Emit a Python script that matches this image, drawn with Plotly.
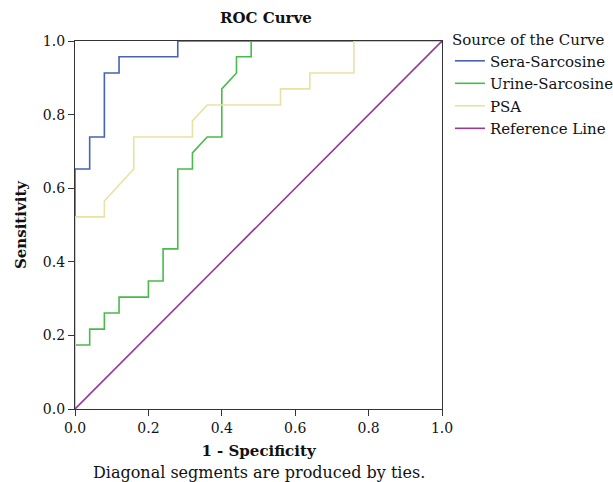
import plotly.graph_objects as go

# Data
sera_fpr = [0, 0, 0.04, 0.04, 0.08, 0.08, 0.12, 0.12, 0.28, 0.28, 1.0]
sera_tpr = [0, 0.652, 0.652, 0.739, 0.739, 0.913, 0.913, 0.957, 0.957, 1.0, 1.0]

urine_fpr = [0, 0, 0.04, 0.04, 0.08, 0.08, 0.12, 0.12, 0.20, 0.20, 0.24, 0.24,
             0.28, 0.28, 0.32, 0.32, 0.36, 0.40, 0.40, 0.44, 0.44, 0.48, 0.48, 1.0]
urine_tpr = [0, 0.174, 0.174, 0.217, 0.217, 0.261, 0.261, 0.304, 0.304, 0.348, 0.348, 0.435,
             0.435, 0.652, 0.652, 0.696, 0.739, 0.739, 0.870, 0.913, 0.957, 0.957, 1.0, 1.0]

psa_fpr = [0, 0, 0.08, 0.08, 0.16, 0.16, 0.32, 0.32, 0.36, 0.56, 0.56, 0.64, 0.64, 0.76, 0.76, 1.0]
psa_tpr = [0, 0.522, 0.522, 0.565, 0.652, 0.739, 0.739, 0.783, 0.826, 0.826, 0.870, 0.870,
           0.913, 0.913, 1.0, 1.0]

ref_fpr = [0, 1]
ref_tpr = [0, 1]

series_names = ["Sera-Sarcosine", "Urine-Sarcosine", "PSA", "Reference Line"]
colors = ["#4762b6", "#48bb48", "#e8e2a2", "#963a96"]

FONT = "DejaVu Serif"

fig = go.Figure()
for name, xs, ys, c in zip(series_names,
                           [sera_fpr, urine_fpr, psa_fpr, ref_fpr],
                           [sera_tpr, urine_tpr, psa_tpr, ref_tpr],
                           colors):
    fig.add_trace(go.Scatter(x=xs, y=ys, mode="lines", name=name,
                             line=dict(color=c, width=1.6)))

axis_common = dict(range=[0, 1], dtick=0.2, tickformat=".1f", showgrid=False, zeroline=False,
                   showline=True, linecolor="#333", linewidth=1.2, mirror=True,
                   ticks="outside", ticklen=6, tickcolor="#333", automargin=False,
                   tickfont=dict(family=FONT, size=14, color="#111"))

fig.update_layout(
    width=613, height=482,
    margin=dict(l=75, r=171, t=41, b=73),
    paper_bgcolor="white", plot_bgcolor="white",
    xaxis=dict(**axis_common, title=dict(text="<b>1 - Specificity</b>", standoff=10,
                                         font=dict(family=FONT, size=15, color="#111"))),
    yaxis=dict(**axis_common, title=dict(text="<b>Sensitivity</b>", standoff=12,
                                         font=dict(family=FONT, size=15, color="#111"))),
    showlegend=True,
    legend=dict(xref="container", yref="container", x=0.734, y=0.948,
                xanchor="left", yanchor="top",
                title=dict(text="Source of the Curve", font=dict(family=FONT, size=15, color="#111")),
                font=dict(family=FONT, size=15, color="#111"),
                tracegroupgap=0, itemwidth=30, bgcolor="rgba(0,0,0,0)"),
    annotations=[
        dict(text="<b>ROC Curve</b>", x=0.52, y=1.0, xref="paper", yref="paper",
             xanchor="center", yanchor="bottom", yshift=12, showarrow=False,
             font=dict(family=FONT, size=15, color="#111")),
        dict(text="Diagonal segments are produced by ties.", x=0.5, y=0, xref="paper", yref="paper",
             xanchor="center", yanchor="top", yshift=-52, showarrow=False,
             font=dict(family=FONT, size=16, color="#111")),
    ],
)

fig.write_html("out.html", post_script="document.body.style.margin='0';",
               config={"displayModeBar": False})
